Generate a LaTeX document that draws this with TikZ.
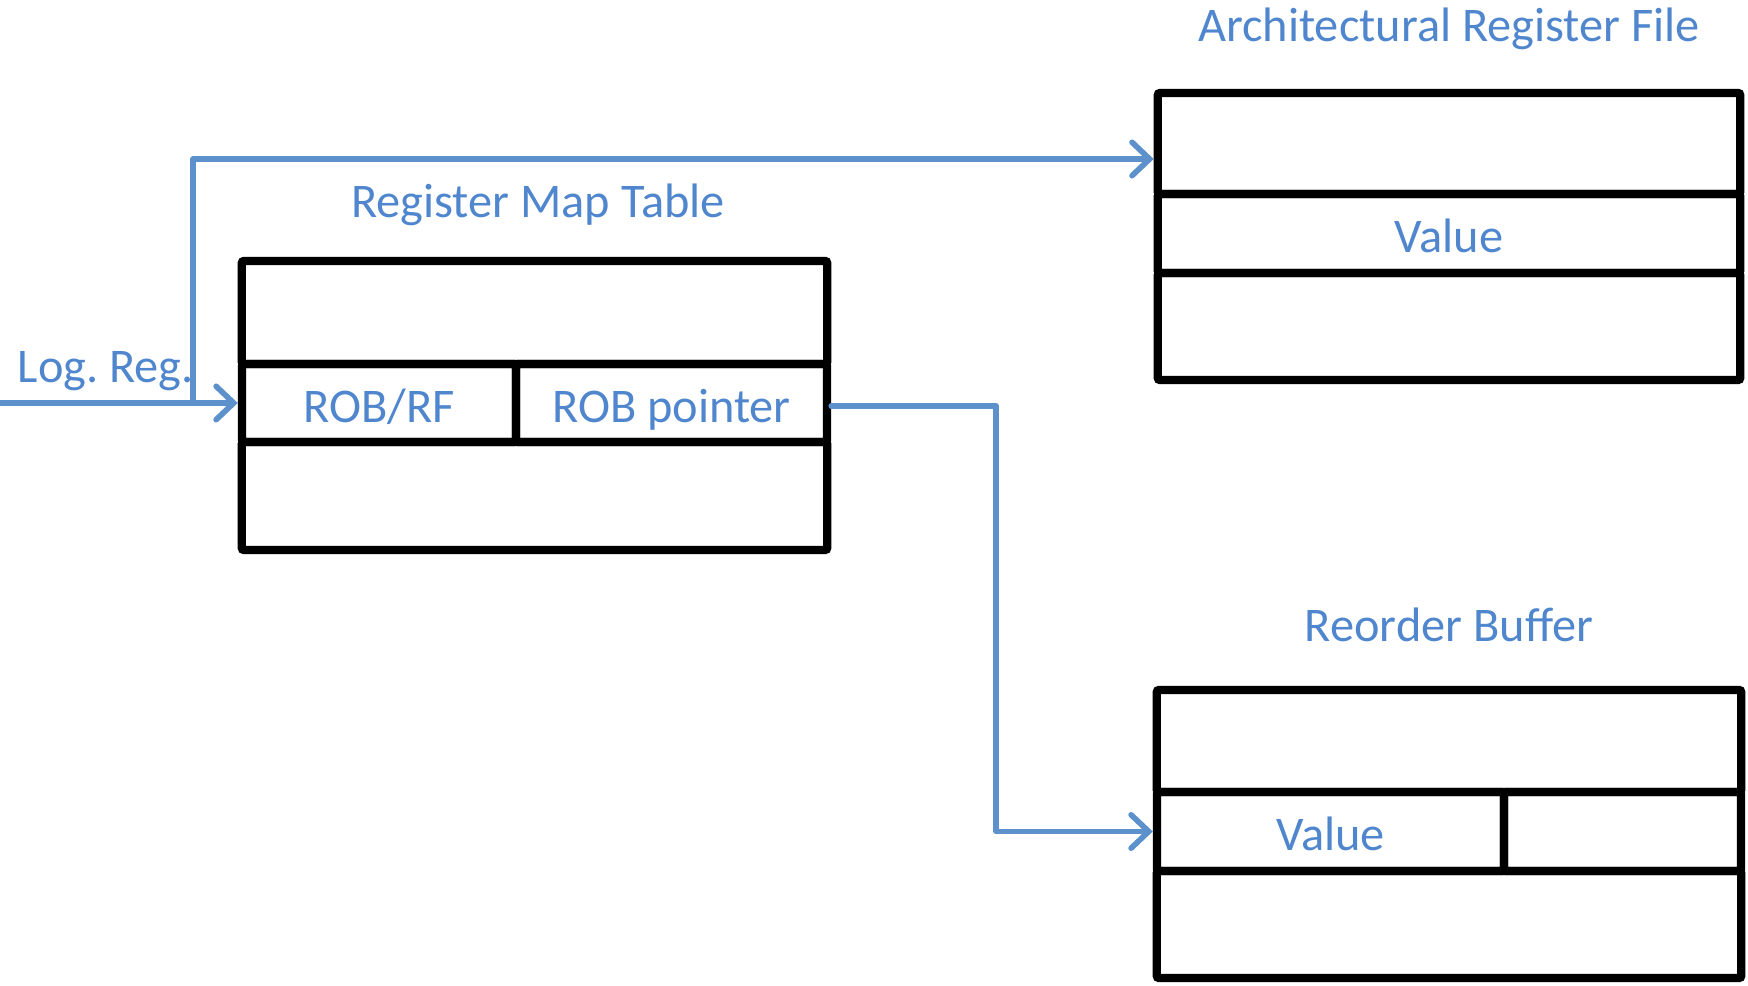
\documentclass[tikz,border=0pt]{standalone}
\usepackage{fontspec}
\setmainfont{Carlito}
\usetikzlibrary{arrows.meta}

\definecolor{wireblue}{RGB}{92,145,203}
\definecolor{labelblue}{RGB}{79,134,205}

\begin{document}
\begin{tikzpicture}[x=0.01cm, y=-0.01cm,
  font=\fontsize{13.75}{16}\selectfont,
  cell/.style={draw, line width=2.35pt, rounded corners=0.6pt, inner sep=0pt,
    text=labelblue, text height=10.9pt, text depth=0pt},
  wire/.style={draw=wireblue, line width=1.6pt, line cap=round, line join=round,
    -{Straight Barb[length=5pt, width=9.5pt, line cap=round]}},
  title/.style={text=labelblue, anchor=base, inner sep=0pt}]

\useasboundingbox (0,0) rectangle (1748,986);

%register map table
\node[title] (rmttitle) at (538,218) {Register Map Table};
\node[cell, minimum width=5.85cm, minimum height=1.03cm] (rmttop) at (534.5,312.5) {};
\node[cell, minimum width=2.74cm, minimum height=0.78cm] (robrf) at (379,403) {ROB/RF};
\node[cell, minimum width=3.11cm, minimum height=0.78cm] (robptr) at (671.5,403) {ROB pointer};
\node[cell, minimum width=5.85cm, minimum height=1.08cm] (rmtbot) at (534.5,496) {};

%architectural register file
\node[title] (arftitle) at (1449,42) {Architectural Register File};
\node[cell, minimum width=5.82cm, minimum height=1.01cm] (arftop) at (1449,143.5) {};
\node[cell, minimum width=5.82cm, minimum height=0.79cm] (arfval) at (1449,233.5) {Value};
\node[cell, minimum width=5.82cm, minimum height=1.07cm] (arfbot) at (1449,326.5) {};

%reorder buffer
\node[title] (robtitle) at (1449,642) {Reorder Buffer};
\node[cell, minimum width=5.84cm, minimum height=1.02cm] (robtop) at (1449,741) {};
\node[cell, minimum width=3.47cm, minimum height=0.79cm] (robval) at (1330.5,831.5) {Value};
\node[cell, minimum width=2.37cm, minimum height=0.79cm] (robtag) at (1622.5,831.5) {};
\node[cell, minimum width=5.84cm, minimum height=1.07cm] (robbot) at (1449,924.5) {};

%input and connections
\node[title, anchor=base west] (logreg) at (17,383) {Log.\ Reg.};
\coordinate (in) at (0,403);
\coordinate (split) at (193,403);

\draw[wire] (in) -- (robrf.west);
\draw[wire] (split) |- ([yshift=-0.155cm]arftop.west);
\draw[wire] ([yshift=-0.03cm]robptr.east) -- ++(165,0) |- (robval.west);

\end{tikzpicture}
\end{document}
